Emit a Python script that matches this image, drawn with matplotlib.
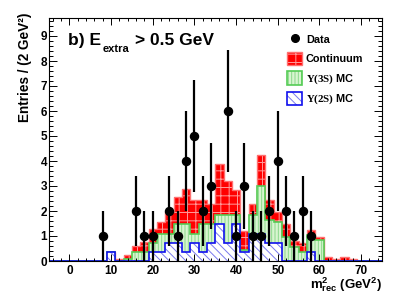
import numpy as np
import matplotlib
matplotlib.use("Agg")
import matplotlib.pyplot as plt
from matplotlib.patches import Patch
from matplotlib.lines import Line2D

plt.rcParams['font.family'] = ['Liberation Sans', 'DejaVu Sans']
plt.rcParams['font.weight'] = 'bold'
plt.rcParams['mathtext.fontset'] = 'custom'
plt.rcParams['mathtext.rm'] = 'Liberation Serif'
plt.rcParams['mathtext.bf'] = 'Liberation Sans:bold'
plt.rcParams['mathtext.sf'] = 'Liberation Sans:bold'
plt.rcParams['mathtext.it'] = 'Liberation Sans:bold:italic'
plt.rcParams['hatch.linewidth'] = 0.7

# ---- data -------------------------------------------------------------
bin_edges = np.arange(-5, 77, 2)          # 40 bins of 2 GeV^2
bin_centers = np.arange(-4, 76, 2)

# cumulative stack heights per bin centre (only non-zero bins listed)
stack_centers = [10, 12, 14, 16, 18, 20, 22, 24, 26, 28, 30, 32, 34, 36, 38,
                 40, 42, 44, 46, 48, 50, 52, 54, 56, 58, 60, 62, 64, 66, 68]
ups2s = [0.37, 0, 0, 0, 0, 0.37, 0.37, 0.73, 0.73, 0.37, 0.73, 0.37, 0.73, 1.47, 0.73,
         1.47, 0.37, 1.10, 1.10, 0.73, 0.73, 0, 0, 0, 0.37, 0, 0, 0, 0, 0]
ups3s_plus_2s = [0.37, 0, 0.10, 0.37, 0.37, 0.73, 1.10, 1.10, 1.47, 1.47, 1.10, 1.47, 1.47, 1.84, 1.84,
                 1.84, 0.44, 1.84, 3.00, 1.64, 1.57, 0.97, 0.57, 0.37, 1.04, 0.84, 0, 0, 0, 0]
total = [0.37, 0.10, 0.25, 0.61, 0.75, 1.30, 1.55, 1.95, 2.55, 2.90, 2.45, 2.45, 2.30, 3.90, 3.20,
         2.84, 1.20, 2.30, 4.24, 2.44, 1.97, 1.50, 0.80, 0.71, 1.24, 0.97, 0.17, 0.10, 0.17, 0.10]

data_x = [8, 16, 18, 20, 24, 26, 28, 30, 32, 34, 38, 40, 42, 44, 46, 48, 50, 52, 54, 56, 58]
data_y = [1, 2, 1, 1, 2, 1, 4, 5, 2, 3, 6, 1, 3, 1, 1, 2, 4, 2, 1, 2, 1]

xticks = [0, 10, 20, 30, 40, 50, 60, 70]
yticks = [0, 1, 2, 3, 4, 5, 6, 7, 8, 9]


def fill_bins(centers, vals):
    out = np.zeros(len(bin_centers))
    for c, v in zip(centers, vals):
        out[list(bin_centers).index(c)] = v
    return out


h2s = fill_bins(stack_centers, ups2s)
h3s = fill_bins(stack_centers, ups3s_plus_2s)
htot = fill_bins(stack_centers, total)

# ---- figure -----------------------------------------------------------
W, H = 407, 297
fig = plt.figure(figsize=(W / 100, H / 100), dpi=100)
ax = fig.add_axes([48.5 / W, 1 - 261 / H, (382 - 48.5) / W, (261 - 17.5) / H])

red_edge = '#ff7070'
red_hatch = '#ff9a9a'
green_face, green_hatch, green_edge = '#d8f5d0', '#8ad88a', '#55cc55'
blue_hatch, blue_edge = '#7a7aee', '#1010ee'

# continuum (total)
ax.stairs(htot, bin_edges, fill=True, facecolor='#ff0000', edgecolor='none', lw=0)
ax.stairs(htot, bin_edges, fill=True, facecolor='none', edgecolor=red_hatch, hatch='++', lw=0)
ax.stairs(htot, bin_edges, fill=False, edgecolor=red_edge, lw=1.0)
# Y(3S)
ax.stairs(h3s, bin_edges, fill=True, facecolor=green_face, edgecolor='none', lw=0)
ax.stairs(h3s, bin_edges, fill=True, facecolor='none', edgecolor=green_hatch, hatch='|||||', lw=0)
ax.stairs(h3s, bin_edges, fill=False, edgecolor=green_edge, lw=1.2)
# Y(2S)
ax.stairs(h2s, bin_edges, fill=True, facecolor='white', edgecolor='none', lw=0)
ax.stairs(h2s, bin_edges, fill=True, facecolor='none', edgecolor=blue_hatch, hatch='\\\\\\\\', lw=0)
ax.stairs(h2s, bin_edges, fill=False, edgecolor=blue_edge, lw=1.2)

# data
ax.errorbar(data_x, data_y, yerr=np.sqrt(data_y), fmt='o', color='black',
            ms=5.8, elinewidth=1.6, capsize=0, zorder=5)

ax.set_xlim(-5, 75)
ax.set_ylim(0, 9.74)
ax.set_xticks(xticks)
ax.set_yticks(yticks)
ax.set_xticks(np.arange(-4, 76, 2), minor=True)
ax.set_yticks(np.arange(0, 9.74, 0.2), minor=True)
ax.tick_params(which='both', direction='in', top=True, right=True, width=0.7,
               labelsize=8.5)
ax.tick_params(axis='x', which='major', length=5, pad=3)
ax.tick_params(axis='x', which='minor', length=2.5)
ax.tick_params(axis='y', which='major', length=5.5, pad=1)
ax.tick_params(axis='y', which='minor', length=2.8)
for lab in ax.get_xticklabels() + ax.get_yticklabels():
    lab.set_fontweight('bold')
for s in ax.spines.values():
    s.set_linewidth(0.8)

# title pieces: "b) E" + subscript "extra" + "> 0.5 GeV"
renderer = fig.canvas.get_renderer()
x0, ybase = 68, 297 - 45
t1 = fig.text(x0 / W, ybase / H, "b) E", fontsize=12.5, fontweight='bold',
              ha='left', va='baseline')
x1 = t1.get_window_extent(renderer).x1
t2 = fig.text((x1 + 2) / W, (ybase - 7) / H, "extra", fontsize=8, fontweight='bold',
              ha='left', va='baseline')
x2 = t2.get_window_extent(renderer).x1
fig.text((x2 + 5) / W, ybase / H, "> 0.5 GeV", fontsize=12.5, fontweight='bold',
         ha='left', va='baseline')

fig.text(25 / W, 1 - 13 / H, "Entries / (2 GeV²)", rotation=90, ha='center', va='top',
         fontsize=9.8, fontweight='bold')
fig.text(382 / W, 1 - 289 / H, r"$\mathbf{m}^{\mathbf{2}}_{\mathbf{rec}}$ (GeV$^{\mathbf{2}}$)",
         ha='right', va='baseline', fontsize=9.5, fontweight='bold')

# legend
h_data = Line2D([], [], marker='o', color='black', ls='none', ms=5.5)
h_cont = (Patch(facecolor='#ff0000', edgecolor='none'),
          Patch(facecolor='none', edgecolor=red_hatch, hatch='++', lw=0),
          Patch(facecolor='none', edgecolor=red_edge, lw=1.0))
h_3s = (Patch(facecolor=green_face, edgecolor='none'),
        Patch(facecolor='none', edgecolor=green_hatch, hatch='|||||', lw=0),
        Patch(facecolor='none', edgecolor=green_edge, lw=1.2))
h_2s = (Patch(facecolor='white', edgecolor='none'),
        Patch(facecolor='none', edgecolor=blue_hatch, hatch='\\\\\\\\', lw=0),
        Patch(facecolor='none', edgecolor=blue_edge, lw=1.2))
fs = 7.8
leg = ax.legend([h_data, h_cont, h_3s, h_2s],
                ["Data", "Continuum", r"$\mathrm{\Upsilon(3S)}$ MC", r"$\mathrm{\Upsilon(2S)}$ MC"],
                loc='upper left', bbox_to_anchor=(287 / W, 1 - 33 / H),
                bbox_transform=fig.transFigure, frameon=False,
                prop={'weight': 'bold', 'size': fs},
                borderpad=0, borderaxespad=0, handlelength=1.4, handleheight=1.5,
                labelspacing=0.55, handletextpad=0.35)

fig.savefig("out.png", dpi=100)
